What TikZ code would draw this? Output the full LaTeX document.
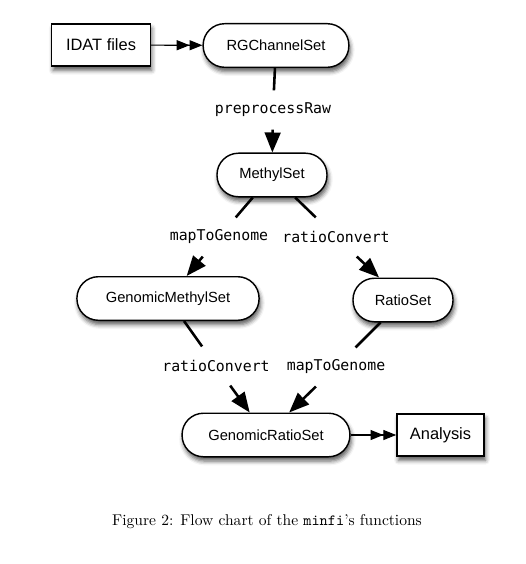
\documentclass[tikz,border=0pt]{standalone}
\usepackage{fontspec}
\newfontfamily\nodefont{Liberation Sans}
\newfontfamily\funcfont{DejaVu Sans Mono}
\usetikzlibrary{arrows.meta,shadows.blur}

\begin{document}
\begin{tikzpicture}[
        x=0.7pt, y=-0.7pt,
        D/.style={rectangle, rounded corners=15pt, draw=black, fill=white, line width=1pt, minimum height=30.5pt, font=\nodefont\fontsize{10.3}{12}\selectfont, blur shadow={shadow xshift=1pt, shadow yshift=-3pt, shadow blur radius=3pt, shadow opacity=65}},
        B/.style={rectangle, draw=black, fill=white, line width=1pt, minimum height=29.5pt, font=\nodefont\fontsize{11.5}{13}\selectfont, blur shadow={shadow xshift=1pt, shadow yshift=-3pt, shadow blur radius=3pt, shadow opacity=65}},
        F/.style={minimum height=27pt, inner xsep=2pt, font=\funcfont\fontsize{10.4}{12}\selectfont},
        link/.style={line width=1.8pt, -{Triangle[length=14pt,width=11pt]}},
        feed/.style={line width=0.8pt, -{Triangle[length=9pt,width=7pt,sep=0pt]Triangle[length=9pt,width=7pt]}}
    ]
    \useasboundingbox (0,0) rectangle (525,564);

    \node[B, minimum width=69pt]    (idat) at (101,45)    {IDAT files};
    \node[D, minimum width=102pt]   (rg)   at (276,45.5)  {RGChannelSet};
    \node[F]                        (pre)  at (273,110)   {preprocessRaw};
    \node[D, minimum width=77pt]    (ms)   at (272,175)   {MethylSet};
    \node[F]                        (map1) at (219,237)   {mapToGenome};
    \node[F]                        (rat1) at (336,237)   {ratioConvert};
    \node[D, minimum width=127.5pt] (gms)  at (168,298.5) {GenomicMethylSet};
    \node[D, minimum width=70pt]    (rs)   at (403,300)   {RatioSet};
    \node[F]                        (rat2) at (216,366)   {ratioConvert};
    \node[F]                        (map2) at (336,367)   {mapToGenome};
    \node[D, minimum width=117.5pt] (grs)  at (266,435)   {GenomicRatioSet};
    \node[B, minimum width=61pt]    (ana)  at (440.5,435) {Analysis};

    \node (cap) at (267,522) {\fontsize{10.9}{13}\selectfont Figure 2: Flow chart of the \texttt{minfi}'s functions};

    \draw[feed] (idat) -- (rg);
    \draw[line width=1.8pt] (rg) -- (pre);
    \draw[link] (pre) -- (ms);
    \draw[line width=1.8pt] (ms) -- (map1);
    \draw[link] (map1) -- (gms);
    \draw[line width=1.8pt] (ms) -- (rat1);
    \draw[link] (rat1) -- (rs);
    \draw[line width=1.8pt] (gms) -- (rat2);
    \draw[link] (rat2) -- (grs);
    \draw[line width=1.8pt] (rs) -- (map2);
    \draw[link] (map2) -- (grs);
    \draw[feed] (grs) -- (ana);
\end{tikzpicture}
\end{document}
